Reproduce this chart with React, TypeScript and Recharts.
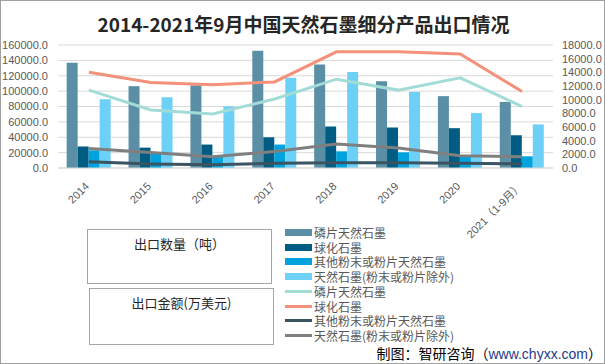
import { ComposedChart, Bar, Line, XAxis, YAxis, CartesianGrid } from "recharts";

const years = ["2014", "2015", "2016", "2017", "2018", "2019", "2020", "2021（1-9月）"];

// 出口数量（吨）
const flakeQty = [137000, 106500, 107500, 152500, 134500, 113000, 93500, 86000];
const sphericalQty = [28000, 26500, 30500, 40000, 54000, 52700, 51800, 42700];
const otherPowderQty = [23000, 19000, 16000, 30500, 21700, 20400, 16000, 15200];
const naturalQty = [89500, 92000, 80200, 117300, 125000, 99000, 71500, 56700];

// 出口金额（万美元）
const flakeVal = [11400, 8500, 7900, 10100, 13000, 11400, 13200, 9000];
const sphericalVal = [14000, 12500, 12200, 12600, 17000, 17000, 16700, 11200];
const otherPowderVal = [920, 600, 480, 680, 770, 770, 680, 600];
const naturalVal = [2860, 2280, 1650, 2420, 3500, 2920, 1800, 1650];

const leftTicks = [0, 20000, 40000, 60000, 80000, 100000, 120000, 140000, 160000];
const rightTicks = [0, 2000, 4000, 6000, 8000, 10000, 12000, 14000, 16000, 18000];

const barSeries = [
  { key: "flakeQty", name: "磷片天然石墨", color: "#5b8fa6" },
  { key: "sphericalQty", name: "球化石墨", color: "#005c82" },
  { key: "otherPowderQty", name: "其他粉末或粉片天然石墨", color: "#00a3dd" },
  { key: "naturalQty", name: "天然石墨(粉末或粉片除外)", color: "#6dd0f7" },
];
const lineSeries = [
  { key: "flakeVal", name: "磷片天然石墨", color: "#a3dcd6" },
  { key: "sphericalVal", name: "球化石墨", color: "#f3917a" },
  { key: "otherPowderVal", name: "其他粉末或粉片天然石墨", color: "#3a5462" },
  { key: "naturalVal", name: "天然石墨(粉末或粉片除外)", color: "#7f7f7f" },
];

const data = years.map((year, i) => ({
  year,
  flakeQty: flakeQty[i],
  sphericalQty: sphericalQty[i],
  otherPowderQty: otherPowderQty[i],
  naturalQty: naturalQty[i],
  flakeVal: flakeVal[i],
  sphericalVal: sphericalVal[i],
  otherPowderVal: otherPowderVal[i],
  naturalVal: naturalVal[i],
}));

const tickFont = { fontFamily: "Liberation Sans, Noto Sans CJK SC", fontSize: 11, fill: "#595959" };

function YearTick(props: any) {
  const { x, y, payload } = props;
  const px = x + 1;
  const py = y + 19;
  return (
    <text
      x={px}
      y={py}
      transform={`rotate(-45, ${px}, ${py})`}
      textAnchor="end"
      {...tickFont}
    >
      {payload.value}
    </text>
  );
}

const boxStyle = {
  position: "absolute" as const,
  border: "1px solid #a6a6a6",
  fontFamily: "Noto Sans CJK SC",
  fontSize: 13,
  color: "#262626",
  textAlign: "center" as const,
  boxSizing: "border-box" as const,
  paddingTop: 4,
};

export default function App() {
  const legendItems = [
    ...barSeries.map((s) => ({ ...s, type: "bar" })),
    ...lineSeries.map((s) => ({ ...s, type: "line" })),
  ];
  return (
    <div
      style={{
        position: "absolute",
        left: 0,
        top: 0,
        width: 605,
        height: 364,
        background: "#fff",
        border: "1px solid #a0a0a0",
        boxSizing: "border-box",
        overflow: "hidden",
      }}
    >
      <div
        style={{
          position: "absolute",
          left: 0,
          top: 10,
          width: 605,
          textAlign: "center",
          fontFamily: "Noto Sans CJK SC",
          fontWeight: 700,
          fontSize: 19,
          lineHeight: "26px",
          color: "#262626",
        }}
      >
        2014-2021年9月中国天然石墨细分产品出口情况
      </div>
      <div style={{ position: "absolute", left: -1, top: -1 }}>
        <ComposedChart
          width={605}
          height={250}
          data={data}
          margin={{ top: 45, right: 0, left: 0, bottom: 0 }}
          barCategoryGap="14%"
          barGap={0}
        >
          <CartesianGrid vertical={false} stroke="#d9d9d9" yAxisId="left" />
          <XAxis
            dataKey="year"
            xAxisId={0}
            height={82}
            interval={0}
            tickLine={false}
            tickSize={0}
            tickMargin={0}
            axisLine={{ stroke: "#d9d9d9" }}
            tick={<YearTick />}
          />
          <YAxis
            yAxisId="left"
            width={58}
            domain={[0, 160000]}
            ticks={leftTicks}
            interval={0}
            tickFormatter={(v: number) => v.toFixed(1)}
            axisLine={false}
            tickLine={false}
            tickMargin={4}
            tick={tickFont}
          />
          <YAxis
            yAxisId="right"
            orientation="right"
            width={52}
            domain={[0, 18000]}
            ticks={rightTicks}
            interval={0}
            tickFormatter={(v: number) => v.toFixed(1)}
            axisLine={false}
            tickLine={false}
            tickMargin={3}
            tick={tickFont}
          />
          {barSeries.map((s) => (
            <Bar
              key={s.key}
              yAxisId="left"
              dataKey={s.key}
              name={s.name}
              fill={s.color}
              isAnimationActive={false}
            />
          ))}
          {lineSeries.map((s) => (
            <Line
              key={s.key}
              yAxisId="right"
              dataKey={s.key}
              name={s.name}
              type="linear"
              stroke={s.color}
              strokeWidth={3}
              dot={false}
              activeDot={false}
              isAnimationActive={false}
            />
          ))}
        </ComposedChart>
      </div>

      <div style={{ ...boxStyle, left: 86, top: 228, width: 185, height: 55 }}>出口数量（吨）</div>
      <div style={{ ...boxStyle, left: 88, top: 287, width: 185, height: 57 }}>出口金额(万美元)</div>

      {legendItems.map((item, i) => (
        <div
          key={item.type + item.key}
          style={{
            position: "absolute",
            left: 284,
            top: 225 + i * 14.7,
            height: 13,
            lineHeight: "13px",
            display: "flex",
            alignItems: "center",
            fontFamily: "Noto Sans CJK SC",
            fontSize: 12,
            color: "#595959",
            whiteSpace: "nowrap",
          }}
        >
          <span
            style={{
              display: "inline-block",
              width: 27,
              height: item.type === "bar" ? 7 : 3,
              background: item.color,
              marginRight: 2,
            }}
          />
          {item.name}
        </div>
      ))}

      <div
        style={{
          position: "absolute",
          right: 2,
          top: 342,
          fontFamily: "Noto Sans CJK SC",
          fontSize: 14,
          lineHeight: "20px",
          color: "#000",
          whiteSpace: "nowrap",
        }}
      >
        制图：智研咨询（<span style={{ color: "#1f3a8a", fontFamily: "Liberation Sans" }}>www.chyxx.com</span>）
      </div>
    </div>
  );
}
